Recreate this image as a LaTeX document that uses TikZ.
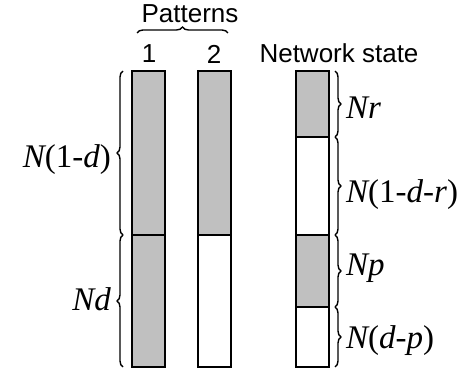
\documentclass[tikz,border=0pt]{standalone}
\usepackage{fontspec}
\setmainfont{Liberation Sans}
\newfontfamily\tms{Liberation Serif}
\usetikzlibrary{decorations.pathreplacing}
\definecolor{barfill}{RGB}{192,192,192}
\begin{document}
\begin{tikzpicture}[x=1pt,y=-1pt,
  seg/.style={draw=black,line width=1.1pt,minimum width=33pt,inner sep=0pt,outer sep=0pt,anchor=north west},
  on/.style={seg,fill=barfill},
  off/.style={seg,fill=white},
  brc/.style={decorate,decoration={brace,amplitude=6pt},line width=1.4pt},
  sans/.style={font=\fontsize{26}{28}\selectfont},
  mlab/.style={font=\fontsize{33}{35}\selectfont\tms,inner sep=0pt}]
\useasboundingbox (0,0) rectangle (474,374);
% pattern 1
\node[on,minimum height=164pt] (p1a) at (132,71) {};
\node[on,minimum height=132pt] (p1b) at (132,235) {};
% pattern 2
\node[on,minimum height=164pt] (p2a) at (198,71) {};
\node[off,minimum height=132pt] (p2b) at (198,235) {};
% network state
\node[on,minimum height=66pt] (s1) at (296,71) {};
\node[off,minimum height=98pt] (s2) at (296,137) {};
\node[on,minimum height=72pt] (s3) at (296,235) {};
\node[off,minimum height=60pt] (s4) at (296,307) {};
% headings
\node[sans] (pat) at (190,14) {Patterns};
\node[sans] (n1) at (149,54) {1};
\node[sans] (n2) at (214,54) {2};
\node[sans] (ns) at (339,53) {Network state};
% braces
\draw[brc] (137,33) -- (228,33);
\draw[brc] ([xshift=-9pt]p1a.south west) -- ([xshift=-9pt]p1a.north west);
\draw[brc] ([xshift=-9pt]p1b.south west) -- ([xshift=-9pt]p1b.north west);
\draw[brc] ([xshift=6pt]s1.north east) -- ([xshift=6pt]s1.south east);
\draw[brc] ([xshift=6pt]s2.north east) -- ([xshift=6pt]s2.south east);
\draw[brc] ([xshift=6pt]s3.north east) -- ([xshift=6pt]s3.south east);
\draw[brc] ([xshift=6pt]s4.north east) -- ([xshift=6pt]s4.south east);
% labels
\node[mlab,anchor=east] (l1) at (111,160) {\itshape N\upshape(1-\itshape d\upshape)};
\node[mlab,anchor=east] (l2) at (111,299) {\itshape Nd};
\node[mlab,anchor=west] (r1) at (346,108) {\itshape Nr};
\node[mlab,anchor=west] (r2) at (346,195) {\itshape N\upshape(1-\itshape d\upshape-\itshape r\upshape)};
\node[mlab,anchor=west] (r3) at (346,268) {\itshape Np};
\node[mlab,anchor=west] (r4) at (346,341) {\itshape N\upshape(\itshape d\upshape-\itshape p\upshape)};
\end{tikzpicture}
\end{document}
